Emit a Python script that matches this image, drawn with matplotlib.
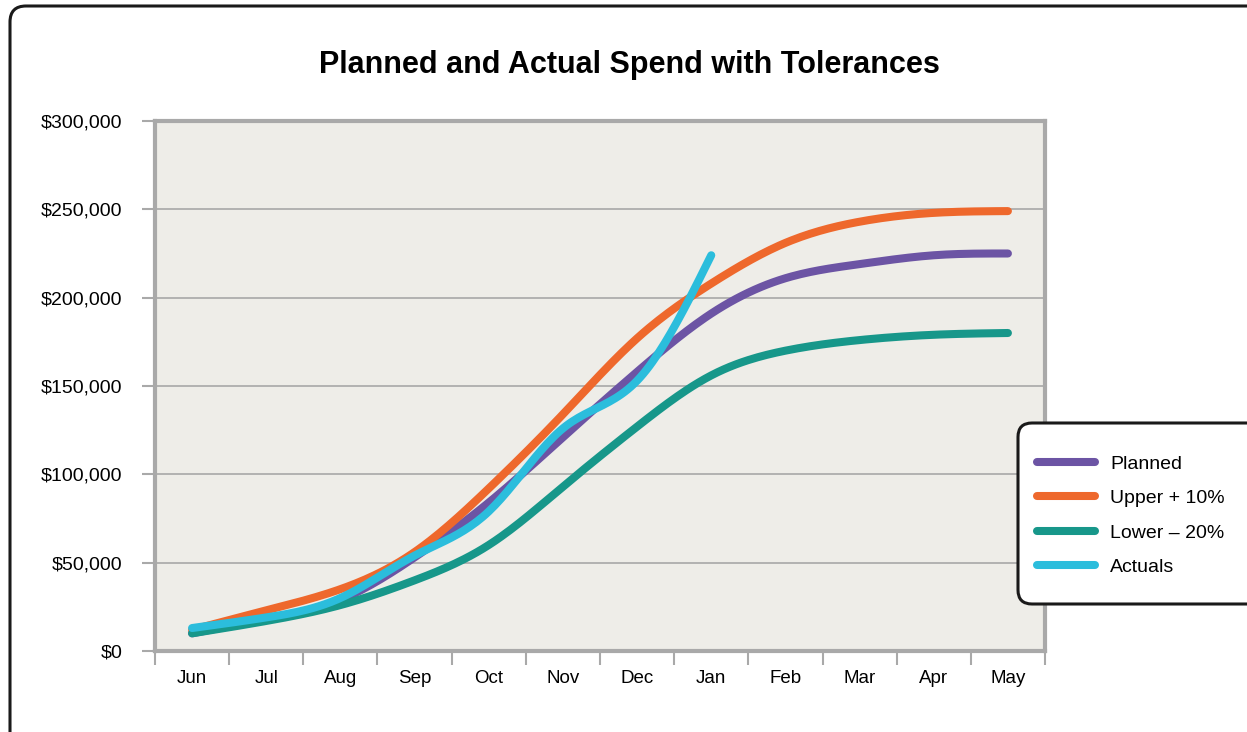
import numpy as np
import matplotlib
matplotlib.use("Agg")
import matplotlib.pyplot as plt
from matplotlib.patches import FancyBboxPatch
from matplotlib.transforms import IdentityTransform
from matplotlib.ticker import FuncFormatter, FixedLocator

# datos (miles de dolares)
meses = ['Jun', 'Jul', 'Aug', 'Sep', 'Oct', 'Nov', 'Dec', 'Jan', 'Feb', 'Mar', 'Apr', 'May']
planned = [10, 18, 29, 53, 84, 121, 158, 191, 211, 219, 224, 225]
upper = [12, 23, 35, 56, 92, 134, 177, 208, 231, 243, 248, 249]
lower = [10, 17, 26, 40, 60, 93, 127, 156, 170, 176, 179, 180]
actuals = [13, 19, 30, 54, 79, 126, 153, 224]

series_names = ['Planned', 'Upper + 10%', 'Lower \u2013 20%', 'Actuals']
colores = ['#6C54A4', '#EE682C', '#17978A', '#2BBDDC']

plt.rcParams['font.family'] = ['Liberation Sans', 'DejaVu Sans']


def suavizar(valores, pasos=24):
    # spline cubica natural entre los puntos mensuales (linea suavizada)
    y = np.asarray(valores, dtype=float) * 1000
    n = len(y)
    A = np.zeros((n, n))
    b = np.zeros(n)
    A[0, 0] = A[-1, -1] = 1
    for i in range(1, n - 1):
        A[i, i - 1], A[i, i], A[i, i + 1] = 1, 4, 1
        b[i] = 6 * (y[i + 1] - 2 * y[i] + y[i - 1])
    M = np.linalg.solve(A, b)
    xs, ys = [], []
    t = np.linspace(0, 1, pasos, endpoint=False)
    for i in range(n - 1):
        s = (1 - t) * y[i] + t * y[i + 1] \
            + ((1 - t)**3 - (1 - t)) * M[i] / 6 + (t**3 - t) * M[i + 1] / 6
        xs.extend(i + t)
        ys.extend(s)
    xs.append(n - 1)
    ys.append(y[-1])
    return np.array(xs), np.array(ys)


fig = plt.figure(figsize=(12.47, 7.32), dpi=100)
ax = fig.add_axes([155 / 1247, 1 - 651 / 732, 890 / 1247, 530 / 732])
ax.set_facecolor('#EEEDE8')

lineas = []
for datos, nombre, color in zip([planned, upper, lower, actuals], series_names, colores):
    xs, ys = suavizar(datos)
    ln, = ax.plot(xs, ys, color=color, lw=5.8, solid_capstyle='round', label=nombre)
    lineas.append(ln)

ax.set_xlim(-0.5, 11.5)
ax.set_ylim(0, 300000)
ax.set_yticks(np.arange(0, 300001, 50000))
ax.yaxis.set_major_formatter(FuncFormatter(lambda v, p: '${:,.0f}'.format(v)))
ax.set_xticks(range(len(meses)))
ax.set_xticklabels(meses)
ax.xaxis.set_minor_locator(FixedLocator(np.arange(-0.5, 12, 1)))

ax.grid(axis='y', color='#A8A8A8', lw=1.2)
ax.set_axisbelow(True)
for s in ax.spines.values():
    s.set_color('#A9A9A9')
    s.set_linewidth(3)

ax.tick_params(axis='y', length=9.5, width=1.5, color='#A9A9A9', labelsize=14, pad=14)
ax.tick_params(axis='x', which='major', length=0, labelsize=13.5, pad=14)
ax.tick_params(axis='x', which='minor', length=10, width=1.5, color='#A9A9A9')

fig.text(629 / 1247, 1 - 65 / 732, 'Planned and Actual Spend with Tolerances',
         ha='center', va='center', fontsize=22, fontweight='bold')

# marco exterior redondeado (cortado a la derecha y abajo)
marco = FancyBboxPatch((10, -40), 1300, 732 - 6 + 40, boxstyle='round,pad=0,rounding_size=16',
                       transform=IdentityTransform(), fc='none', ec='#1A1A1A', lw=2.2)
fig.add_artist(marco)

# caja de la leyenda
caja = FancyBboxPatch((1018, 732 - 604), 300, 604 - 423, boxstyle='round,pad=0,rounding_size=14',
                      transform=IdentityTransform(), fc='white', ec='#1A1A1A', lw=2.2)
fig.add_artist(caja)

fig.legend(lineas, series_names, loc='upper left',
           bbox_to_anchor=(1037 / 1247, 1 - 455 / 732), frameon=False,
           borderpad=0, borderaxespad=0, fontsize=14, handlelength=2.97,
           handletextpad=0.8, labelspacing=0.87)

plt.savefig('out.png', dpi=100)
